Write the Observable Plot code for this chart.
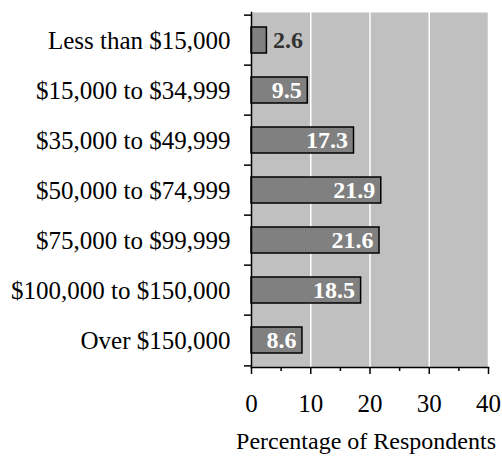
<!DOCTYPE html>
<html>
<head>
<meta charset="utf-8">
<script src="https://cdn.jsdelivr.net/npm/d3@7"></script>
<script src="https://cdn.jsdelivr.net/npm/@observablehq/plot@0.6"></script>
<style>
  html, body { margin: 0; padding: 0; background: #ffffff; }
  #chart svg { display: block; }
</style>
</head>
<body>
<div id="chart"></div>
<script>
// Household income brackets and share of respondents (%)
const incomeBrackets = [
  "Less than $15,000",
  "$15,000 to $34,999",
  "$35,000 to $49,999",
  "$50,000 to $74,999",
  "$75,000 to $99,999",
  "$100,000 to $150,000",
  "Over $150,000"
];
const percentages = [2.6, 9.5, 17.3, 21.9, 21.6, 18.5, 8.6];
const majorTicks = [0, 10, 20, 30, 40];
const minorTicks = [5, 15, 25, 35];
const gridValues = [10, 20, 30, 40];
const xTitle = "Percentage of Respondents";

const rows = incomeBrackets.map((bracket, i) => ({bracket, pct: percentages[i]}));

const W = 502, H = 458;
const mTop = 12, mBottom = 91, mLeft = 251, mRight = 14;
// band step: paddingOuter is half of paddingInner so bands tile the frame evenly
const step = (H - mTop - mBottom) / incomeBrackets.length;
const font = "'Liberation Serif', 'Times New Roman', serif";

const chart = Plot.plot({
  width: W,
  height: H,
  marginTop: mTop,
  marginBottom: mBottom,
  marginLeft: mLeft,
  marginRight: mRight,
  style: {fontFamily: font, fontSize: "25px", background: "#ffffff", color: "#000000"},
  x: {domain: [0, 40]},
  y: {domain: incomeBrackets, paddingInner: 0.49, paddingOuter: 0.245},
  marks: [
    Plot.frame({fill: "#c0c0c0", stroke: null}),
    Plot.ruleX(gridValues, {stroke: "#ffffff", strokeWidth: 1.5}),
    Plot.barX(rows, {x: "pct", y: "bracket", fill: "#808080", stroke: "#000000", strokeWidth: 1.5}),
    // value labels: inside the bar end in white, outside in dark grey for short bars
    Plot.text(rows.filter(d => d.pct >= 5), {
      x: "pct", y: "bracket", text: d => d.pct.toFixed(1),
      textAnchor: "end", dx: -6, fill: "#ffffff", fontWeight: "bold", fontSize: 24
    }),
    Plot.text(rows.filter(d => d.pct < 5), {
      x: "pct", y: "bracket", text: d => d.pct.toFixed(1),
      textAnchor: "start", dx: 6, fill: "#333333", fontWeight: "bold", fontSize: 24
    }),
    // axis lines
    Plot.frame({anchor: "left", stroke: "#000000", strokeWidth: 1.5}),
    Plot.frame({anchor: "bottom", stroke: "#000000", strokeWidth: 1.5}),
    // category labels (no ticks at centres)
    Plot.axisY({tickSize: 0, tickPadding: 21, fontSize: 25, fill: "#000000", label: null}),
    // ticks on band boundaries
    Plot.axisY({tickSize: 7, tickFormat: () => "", dy: -step / 2, label: null, stroke: "#000000", strokeWidth: 1.5}),
    Plot.axisY({ticks: [incomeBrackets[incomeBrackets.length - 1]], tickSize: 7, tickFormat: () => "", dy: step / 2, label: null, stroke: "#000000", strokeWidth: 1.5}),
    // x axis
    Plot.axisX({ticks: majorTicks, tickSize: 7, tickPadding: 20, fontSize: 25, fill: "#000000", label: null, stroke: "#000000", strokeWidth: 1.5}),
    Plot.axisX({ticks: minorTicks, tickSize: 4, tickFormat: () => "", label: null, stroke: "#000000", strokeWidth: 1.5}),
    Plot.text([xTitle], {frameAnchor: "bottom", dx: -4, dy: 81, fontSize: 24, fill: "#000000"})
  ]
});

document.getElementById("chart").appendChild(chart);
</script>
</body>
</html>
